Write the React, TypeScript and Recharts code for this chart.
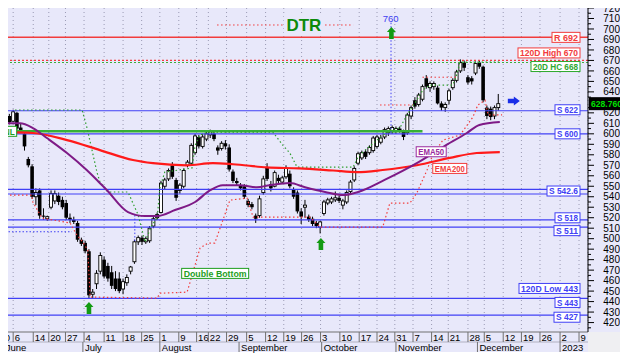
import React from 'react';
import {
  ComposedChart, Bar, Line, XAxis, YAxis, CartesianGrid, ReferenceLine, ReferenceDot
} from 'recharts';

const FONT = '"Liberation Sans", Arial, sans-serif';

// daily candles, index = trading day from 30 May
const opens = [615, 618, 612, 617, 612, 620, 606, 600, 576, 569, 540, 546, 522, 519, 530, 536, 541, 537, 534, 520,
  518, 515, 499, 496, 488, 447, 457, 469, 480, 474, 468, 462, 462, 452, 458, 469, 478, 497, 501, 497,
  498, 512, 520, 525, 550, 557, 570, 556, 546, 550, 570, 572, 582, 597, 588, 595, 599, 600, 587, 586,
  591, 587, 564, 555, 551, 550, 536, 533, 522, 522, 544, 568, 552, 550, 558, 554, 559, 562, 547, 544,
  526, 530, 521, 519, 515, 511, 524, 534, 535, 537, 539, 532, 535, 545, 556, 572, 577, 583, 582, 584,
  588, 592, 597, 601, 602, 603, 605, 602, 601, 617, 632, 628, 633, 653, 644, 645, 644, 629, 625, 632,
  644, 651, 660, 668, 654, 653, 658, 668, 664, 625, 624, 617, 625];
const highs = [620, 620, 619, 619, 623, 621, 610, 602, 578, 571, 548, 548, 529, 522, 546, 546, 544, 540, 537, 524,
  521, 517, 501, 498, 490, 452, 470, 487, 483, 477, 474, 469, 468, 462, 466, 474, 499, 503, 503, 502,
  512, 521, 525, 555, 558, 567, 573, 558, 553, 567, 575, 591, 600, 599, 600, 603, 604, 602, 589, 593,
  594, 590, 566, 558, 553, 552, 538, 535, 524, 541, 560, 572, 555, 565, 561, 560, 570, 565, 549, 546,
  529, 537, 523, 521, 517, 517, 537, 539, 540, 545, 541, 538, 546, 556, 569, 583, 584, 585, 589, 598,
  599, 599, 606, 607, 608, 607, 607, 604, 620, 627, 635, 639, 647, 656, 650, 650, 646, 631, 630, 643,
  653, 661, 671, 670, 656, 655, 669, 670, 665, 627, 626, 627, 638];
const lows = [612, 610, 610, 609, 611, 603, 601, 584, 568, 538, 532, 519, 518, 517, 528, 533, 532, 528, 518, 515,
  514, 497, 493, 486, 443, 443, 452, 466, 462, 459, 452, 450, 448, 447, 455, 466, 476, 494, 494, 495,
  496, 510, 518, 524, 547, 555, 557, 536, 543, 548, 568, 570, 580, 586, 586, 593, 596, 593, 580, 584,
  585, 564, 553, 551, 546, 538, 530, 528, 515, 520, 542, 555, 545, 549, 552, 552, 557, 548, 538, 524,
  514, 520, 516, 512, 510, 505, 522, 532, 533, 535, 534, 528, 533, 543, 554, 570, 575, 576, 580, 582,
  586, 590, 595, 598, 600, 600, 601, 594, 599, 614, 624, 626, 631, 643, 640, 642, 628, 622, 621, 628,
  642, 649, 658, 660, 647, 647, 656, 662, 630, 614, 613, 614, 622];
const closes = [618, 612, 617, 611, 621, 605, 603, 588, 570, 540, 544, 522, 521, 521, 543, 543, 535, 530, 520, 518,
  516, 499, 495, 488, 446, 449, 467, 484, 464, 462, 455, 452, 450, 459, 463, 473, 497, 501, 497, 500,
  510, 519, 523, 553, 556, 565, 559, 539, 551, 565, 573, 589, 598, 588, 597, 600, 602, 595, 584, 591,
  588, 566, 555, 553, 548, 540, 532, 530, 519, 538, 557, 557, 548, 563, 555, 558, 567, 550, 540, 526,
  521, 532, 518, 514, 512, 516, 535, 537, 538, 539, 536, 536, 544, 554, 567, 581, 582, 578, 587, 596,
  597, 596, 604, 605, 606, 605, 603, 597, 618, 625, 626, 637, 645, 645, 648, 648, 629, 625, 628, 641,
  651, 659, 668, 663, 649, 650, 667, 664, 632, 617, 616, 625, 628.76];

// moving averages
const ema50T = [0, 5.8, 9.2, 12.9, 18.2, 23.4, 26.1, 28.7, 34.3, 38.8, 42, 46.7, 52, 55.9, 59.3, 63.8, 68.3, 71.7, 77, 81, 86.3, 91, 95, 102, 110.5, 117.4, 123.7, 127, 132.4];
const ema50V = [610, 610, 605.5, 596, 581.7, 565.5, 556, 546.4, 525.4, 521.6, 521.6, 527.3, 535, 546, 551, 551, 549, 551, 553, 549, 544.5, 541.6, 544.5, 556, 572, 587.4, 600.8, 608.4, 611.2];
const ema200T = [0, 9.2, 18.2, 26.9, 35.6, 40.9, 49.8, 56.7, 62, 70.9, 79.6, 88.4, 94.7, 101.5, 110.5, 119.2, 126.3, 132.4];
const ema200V = [601.7, 600.8, 594, 584.5, 575, 572, 570, 572, 571, 568, 567, 565, 563.5, 565.5, 570, 577, 581.7, 582.6];

// 20 day highest close (green dotted) and trailing stop (red dotted)
const hcT = [4.5, 22.2, 23.5, 26.1, 26.9, 29, 34.3, 37, 38.8, 40.6, 42, 42.7, 44, 51.2, 52, 53.3, 55.4, 72.5, 75.2, 77, 78.9, 93.7, 95, 96.3, 100, 103.4, 106, 108.2, 110, 112.1, 114, 120, 121, 121.9, 132.4];
const hcV = [622.7, 622.7, 605.5, 563.5, 554, 544.5, 544.5, 522.5, 496.8, 513, 519.7, 548.3, 563.5, 567.4, 589, 598.8, 601.7, 601.7, 589, 581.7, 568.3, 568.3, 577.9, 582.6, 594, 603.6, 605.5, 619.8, 629.4, 641.8, 646.5, 646.5, 656, 668.5, 668.5];
const stopT = [0, 8.9, 9.2, 11.6, 19, 20.8, 22.4, 23.7, 24.3, 42, 42.7, 49.9, 53.3, 55.4, 57.2, 61.2, 65.7, 67.3, 82.3, 85, 101.5, 103.4, 108.7, 110.5, 113.2, 114.7, 117.4, 121.9, 125.3, 126.6, 128.5, 129.3, 133];
const stopV = [541.6, 541.6, 535, 519.7, 515, 503.5, 496.8, 489, 444.3, 443.3, 448, 449, 491, 495.8, 495.8, 536.8, 538.7, 520.6, 520.6, 511, 511, 534, 534, 543.5, 565.5, 580, 594, 598.8, 616, 627.5, 632, 618, 618];

const supports = [622, 600, 547, 542.6, 518, 511, 443, 427];
const resistance = 692;
const high120 = 670;
const hc20 = 668;
const neckline = 602.5;
const lastClose = 628.76;

const dayTicks = [0, 4, 9.3, 13.4, 17.8, 22.7, 28, 33, 37.9, 42.7, 47.7, 52.4, 55.5, 60.3, 65.6, 70.6, 75.4, 80.1, 85.1, 90.2, 95.3, 100, 104.7, 109.5, 114.4, 118.8, 124, 128.3, 133.3, 138.1, 143, 148.3, 153.3];
const dayLabels = ['30', '6', '14', '20', '27', '4', '11', '18', '25', '1', '9', '16', '22', '29', '5', '12', '19', '26', '3', '10', '17', '24', '31', '7', '14', '21', '28', '5', '12', '19', '26', '2', '9'];
const monthTicks = [1.5, 22.4, 42.7, 63.6, 85.4, 105, 126.5, 148.3];
const monthLabels = ['June', 'July', 'August', 'September', 'October', 'November', 'December', '2023'];
// 630 sits under the last-price tag, so the tag is listed last and drawn on top
const yTicks = [415, 420, 425, 430, 435, 440, 445, 450, 455, 460, 465, 470, 475, 480, 485, 490, 495, 500, 505, 510,
  515, 520, 525, 530, 535, 540, 545, 550, 555, 560, 565, 570, 575, 580, 585, 590, 595, 600, 605, 610,
  615, 620, 625, 635, 640, 645, 650, 655, 660, 665, 670, 675, 680, 685, 690, 695, 700, 705, 710, 715, 720, lastClose];

const candles = opens.map((o, i) => ({ t: i, o, h: highs[i], l: lows[i], c: closes[i], range: [lows[i], highs[i]] }));
const pts = (ts: number[], vs: number[]) => ts.map((t, i) => ({ t, v: vs[i] }));

const RED = '#f23c3c';
const BLUE = '#4040f5';
const GREEN = '#1e9e1e';

const Candle = (p: any) => {
  const { x, y, width, height, payload } = p;
  if (!payload || height == null) return null;
  const cx = x + width / 2;
  const top0 = Math.min(y, y + height);
  const h = Math.abs(height);
  const span = payload.h - payload.l || 1;
  const yOf = (v: number) => top0 + ((payload.h - v) / span) * h;
  const bt = yOf(Math.max(payload.o, payload.c));
  const bb = yOf(Math.min(payload.o, payload.c));
  const up = payload.c >= payload.o;
  return (
    <g>
      <line x1={cx} x2={cx} y1={top0} y2={top0 + h} stroke="#000" strokeWidth={1} />
      {up ? (
        <rect x={cx - 1.5} y={bt} width={3} height={Math.max(1, bb - bt)} fill="#fff" stroke="#000" strokeWidth={0.9} />
      ) : (
        <rect x={cx - 1.8} y={bt} width={3.6} height={Math.max(1, bb - bt)} fill="#000" />
      )}
    </g>
  );
};

const Tag = ({ cx, cy, text, color, w }: any) => (
  <g>
    <rect x={cx - w / 2} y={cy - 5} width={w} height={10} fill="#fff" stroke={color} strokeWidth={1} />
    <text
      x={cx} y={cy} dy="0.36em" textAnchor="middle" fontSize={9} fontWeight="bold" fill={color}
      fontFamily={FONT} textLength={w - 4} lengthAdjust="spacingAndGlyphs"
    >
      {text}
    </text>
  </g>
);

const sideLabel = (text: string, color: string, w: number, dy: number) => (p: any) => {
  const vb = p.viewBox;
  if (!vb) return null;
  const right = vb.x + vb.width - 8;
  return <Tag cx={right - w / 2} cy={vb.y + dy} text={text} color={color} w={w} />;
};

const DayTick = ({ x, y, payload }: any) => {
  const i = dayTicks.indexOf(payload.value);
  return (
    <g>
      <line x1={x} x2={x} y1={y} y2={y + 10} stroke="#707070" />
      <text x={x + 1.5} y={y + 8.5} fontSize={9.5} fill="#000" fontFamily={FONT}>{dayLabels[i]}</text>
    </g>
  );
};

const MonthTick = ({ x, y, payload }: any) => {
  const i = monthTicks.indexOf(payload.value);
  return (
    <g>
      <line x1={x} x2={x} y1={y} y2={y + 10} stroke="#707070" />
      <text x={x + 2} y={y + 8.5} fontSize={9.5} fill="#000" fontFamily={FONT}>{monthLabels[i]}</text>
    </g>
  );
};

const YTick = ({ x, y, payload }: any) => {
  const v = payload.value;
  if (v === lastClose) {
    return (
      <g>
        <rect x={x + 1} y={y - 6.5} width={40} height={13} fill="#000" />
        <text
          x={x + 3} y={y} dy="0.36em" fontSize={9} fontWeight="bold" fill="#00e000" fontFamily={FONT}
          textLength={31} lengthAdjust="spacingAndGlyphs"
        >
          628.760
        </text>
      </g>
    );
  }
  const major = v % 10 === 0;
  return (
    <g>
      <line x1={x} x2={x + (major ? 6 : 3)} y1={y} y2={y} stroke="#000" />
      {major && (
        <text x={x + 32} y={y} dy="0.36em" textAnchor="end" fontSize={10} fill="#000" fontFamily={FONT}>{v}</text>
      )}
    </g>
  );
};

const upArrow = (color: string) => (p: any) => (
  <path d={`M${p.cx},${p.cy} l4.5,5 h-2.2 v7 h-4.6 v-7 h-2.2 z`} fill={color} />
);

const rightArrow = (p: any) => (
  <path d={`M${p.cx + 6},${p.cy} l-6,-4.5 v2.2 h-6 v4.6 h6 v2.2 z`} fill="#1a2ee8" />
);

export default function App() {
  return (
    <div style={{ position: 'relative', width: 628, height: 358, marginLeft: -8, marginTop: -8, overflow: 'hidden', background: '#fff' }}>
      <div style={{ position: 'absolute', left: 0, top: 8, width: 628, height: 344, background: '#e8e8fa' }} />
      <div style={{ position: 'absolute', left: 588, top: 332, width: 40, height: 20, background: '#efeff2' }} />
      <div style={{ position: 'absolute', left: -2, top: 0 }}>
        <ComposedChart width={630} height={358} data={candles} margin={{ top: 8, right: 0, bottom: 6, left: 0 }}>
          <CartesianGrid horizontal={false} stroke="#9a9ab4" strokeDasharray="1 3" fill="#e8e8fa" />
          <XAxis
            dataKey="t" type="number" domain={[0, 155.67]} ticks={dayTicks} interval={0}
            height={10} tickSize={0} tickMargin={0} tickLine={false} tick={<DayTick />}
            axisLine={{ stroke: '#707070' }} allowDataOverflow
          />
          <XAxis
            xAxisId="m" dataKey="t" type="number" domain={[0, 155.67]} ticks={monthTicks} interval={0}
            height={10} tickSize={0} tickMargin={0} tickLine={false} tick={<MonthTick />}
            axisLine={{ stroke: '#b0b0c0' }} allowDataOverflow
          />

          <ReferenceLine y={resistance} stroke={RED} strokeWidth={1.5} label={sideLabel('R 692', RED, 28, 0)} />
          <ReferenceLine y={high120} stroke={RED} strokeDasharray="2 2" strokeWidth={1.2} label={sideLabel('120D High 670', RED, 62, -7.5)} />
          <ReferenceLine y={hc20} stroke="#3cae3c" strokeDasharray="2 2" strokeWidth={1.2} label={sideLabel('20D HC 668', '#2ea82e', 49, 4)} />
          <ReferenceLine y={supports[0]} stroke={BLUE} strokeWidth={1.2} label={sideLabel('S 622', BLUE, 25, -1)} />
          <ReferenceLine y={supports[1]} stroke={BLUE} strokeWidth={1.2} label={sideLabel('S 600', BLUE, 25, 0)} />
          <ReferenceLine y={supports[2]} stroke={BLUE} strokeWidth={1.2} />
          <ReferenceLine y={supports[3]} stroke={BLUE} strokeWidth={1.2} label={sideLabel('S 542.6', BLUE, 33, -3)} />
          <ReferenceLine y={supports[4]} stroke={BLUE} strokeWidth={1.2} label={sideLabel('S 518', BLUE, 25, -2)} />
          <ReferenceLine y={supports[5]} stroke={BLUE} strokeWidth={1.2} label={sideLabel('S 511', BLUE, 26, 3.5)} />
          <ReferenceLine y={supports[6]} stroke={BLUE} strokeWidth={1.2} label={sideLabel('120D Low 443', BLUE, 61, -10)} />
          <ReferenceLine y={supports[6]} stroke="none" label={sideLabel('S 443', BLUE, 25, 4)} />
          <ReferenceLine y={supports[7]} stroke={BLUE} strokeWidth={1.2} label={sideLabel('S 427', BLUE, 26, 2)} />

          <Line data={pts([0, 112], [neckline, neckline])} dataKey="v" stroke="#36b036" strokeWidth={2.5} dot={false} isAnimationActive={false} />
          <Line data={pts([0, 19.5], [506.6, 506.6])} dataKey="v" stroke={BLUE} strokeDasharray="1.5 2" dot={false} isAnimationActive={false} />
          <Line data={pts([36.1, 36.1], [522.5, 497])} dataKey="v" stroke={BLUE} strokeDasharray="1.5 2" dot={false} isAnimationActive={false} />
          <Line data={pts([103.7, 103.7], [706, 601])} dataKey="v" stroke={BLUE} strokeDasharray="1.5 2" dot={false} isAnimationActive={false} />
          <Line data={pts([57.8, 93.7], [703.8, 703.8])} dataKey="v" stroke={RED} strokeDasharray="1.5 2.5" dot={false} isAnimationActive={false} />
          <Line data={pts([100.8, 109.5], [627.5, 627.5])} dataKey="v" stroke={RED} strokeDasharray="1.5 2.5" dot={false} isAnimationActive={false} />
          <Line data={pts([112, 121], [654, 654])} dataKey="v" stroke={RED} strokeDasharray="1.5 2.5" dot={false} isAnimationActive={false} />
          <Line data={pts(stopT, stopV)} dataKey="v" stroke={RED} strokeDasharray="1.5 2.5" strokeWidth={1.2} dot={false} isAnimationActive={false} />
          <Line data={pts(hcT, hcV)} dataKey="v" stroke="#2e9e2e" strokeDasharray="1.5 2.5" strokeWidth={1.2} dot={false} isAnimationActive={false} />

          <Line data={pts(ema200T, ema200V)} dataKey="v" type="monotone" stroke="#ff1a1a" strokeWidth={2.2} dot={false} isAnimationActive={false} />
          <Line data={pts(ema50T, ema50V)} dataKey="v" type="monotone" stroke="#7e1a86" strokeWidth={2} dot={false} isAnimationActive={false} />

          <Bar dataKey="range" barSize={3} shape={(p: any) => <Candle {...p} />} isAnimationActive={false} />

          <ReferenceDot x={2.95} y={602.4} r={0} shape={(p: any) => <Tag cx={p.cx} cy={p.cy} text="NL" color={GREEN} w={15} />} />
          <ReferenceDot x={57.3} y={466.9} r={0} shape={(p: any) => <Tag cx={p.cx} cy={p.cy} text="Double Bottom" color={GREEN} w={67} />} />
          <ReferenceDot x={114.3} y={582.9} r={0} shape={(p: any) => <Tag cx={p.cx} cy={p.cy} text="EMA50" color="#9a2a9e" w={30} />} />
          <ReferenceDot x={119.2} y={567} r={0} shape={(p: any) => <Tag cx={p.cx} cy={p.cy} text="EMA200" color={RED} w={34} />} />
          <ReferenceDot x={80.7} y={703.8} r={0} shape={(p: any) => (
            <g>
              <rect x={p.cx - 20} y={p.cy - 9} width={40} height={18} fill="#e8e8fa" />
              <text x={p.cx} y={p.cy} dy="0.36em" textAnchor="middle" fontSize={17} fontWeight="bold" fill="#0b8a0b" fontFamily={FONT}>DTR</text>
            </g>
          )} />
          <ReferenceDot x={103.6} y={710} r={0} shape={(p: any) => (
            <text x={p.cx} y={p.cy} dy="0.36em" textAnchor="middle" fontSize={9.5} fill="#4040f0" fontFamily={FONT}>760</text>
          )} />
          <ReferenceDot x={24} y={439.5} r={0} shape={upArrow('#139a13')} />
          <ReferenceDot x={85.2} y={500.6} r={0} shape={upArrow('#139a13')} />
          <ReferenceDot x={103.8} y={701.9} r={0} shape={upArrow('#139a13')} />
          <ReferenceDot x={136.1} y={631.3} r={0} shape={rightArrow} />

          <YAxis
            orientation="right" domain={[411, 720]} ticks={yTicks} interval={0} width={40}
            tickSize={0} tickMargin={0} tickLine={false} tick={<YTick />}
            axisLine={{ stroke: '#000' }} allowDataOverflow
          />
        </ComposedChart>
      </div>
    </div>
  );
}
